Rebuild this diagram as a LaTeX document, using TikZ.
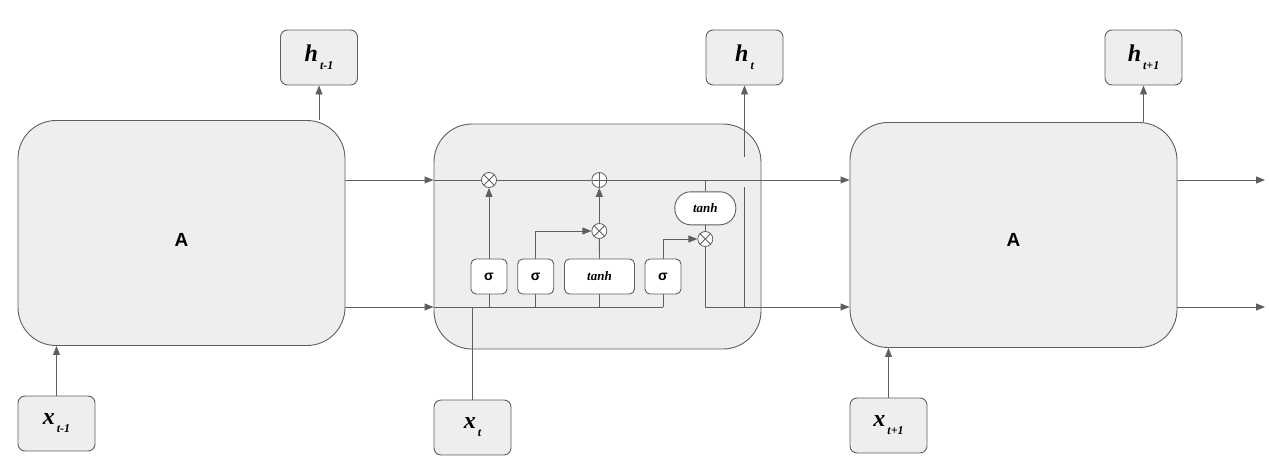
\documentclass[tikz,border=0pt]{standalone}
\usepackage{fontspec}
\setmainfont{Liberation Serif}
\setsansfont{Liberation Sans}
\usetikzlibrary{arrows.meta}
\definecolor{linegray}{HTML}{5F5F5F}
\definecolor{cellfill}{HTML}{EEEEEE}
% label with a lowered subscript, as h_t or x_t
\newcommand{\steplabel}[2]{{\fontsize{24}{24}\selectfont\bfseries\itshape #1}\raisebox{-8pt}{\fontsize{12}{12}\selectfont\bfseries\itshape\,#2}}

\begin{document}
\begin{tikzpicture}[x=1pt, y=-1pt,
    wire/.style={draw=linegray, line width=0.9pt},
    arr/.style={wire, -{Triangle[length=9pt,width=7pt]}},
    cell/.style={draw=linegray, line width=0.9pt, fill=cellfill, rounded corners=38pt, minimum width=327pt, minimum height=225pt, text depth=0pt, font=\sffamily\bfseries\fontsize{19}{19}\selectfont},
    io/.style={draw=linegray, line width=0.9pt, fill=cellfill, rounded corners=7pt, minimum width=77pt, minimum height=55pt, inner sep=0pt},
    gate/.style={draw=linegray, line width=0.9pt, fill=white, rounded corners=5pt, minimum width=36pt, minimum height=35pt, inner sep=0pt, font=\sffamily\bfseries\fontsize{14}{14}\selectfont},
    op/.style={circle, draw=linegray, line width=0.8pt, fill=white, minimum size=15pt, inner sep=0pt},
    mult/.style={op, path picture={\draw[linegray, line width=0.8pt] (path picture bounding box.south west) -- (path picture bounding box.north east) (path picture bounding box.north west) -- (path picture bounding box.south east);}},
    plus/.style={op, path picture={\draw[linegray, line width=0.8pt] (path picture bounding box.north) -- (path picture bounding box.south) (path picture bounding box.west) -- (path picture bounding box.east);}}
]
    \useasboundingbox (0,0) rectangle (1269,469);

    % the three cells
    \node[cell, text height=26.6pt] (A1) at (181.5,233) {A};
    \node[cell] (A2) at (597.5,236.5) {};
    \node[cell, text height=23.6pt] (A3) at (1013.5,235) {A};

    % outputs and inputs
    \node[io] (hprev) at (319,57.5) {\steplabel{h}{t-1}};
    \node[io] (hcur) at (744.5,57.5) {\steplabel{h}{t}};
    \node[io] (hnext) at (1143.5,57.5) {\steplabel{h}{t+1}};
    \node[io] (xprev) at (56.5,423.5) {\steplabel{x}{t-1}};
    \node[io] (xcur) at (472.5,427.5) {\steplabel{x}{t}};
    \node[io] (xnext) at (888.5,425.5) {\steplabel{x}{t+1}};

    % inside the middle cell
    \node[gate] (s1) at (489,276.5) {σ};
    \node[gate] (s2) at (535.7,276.5) {σ};
    \node[gate, minimum width=70pt, font=\bfseries\itshape\fontsize{13}{13}\selectfont] (tg) at (599.5,276.5) {tanh};
    \node[gate] (s3) at (663,276.5) {σ};
    \node[gate, minimum width=61pt, minimum height=33pt, rounded corners=16pt, font=\bfseries\itshape\fontsize{13}{13}\selectfont] (tc) at (705.3,208.3) {tanh};
    \node[mult] (m1) at (489,180) {};
    \node[plus] (p1) at (599.3,180) {};
    \node[mult] (m2) at (599.3,231) {};
    \node[mult] (m3) at (705.3,239) {};

    \coordinate (bus) at (0,307);
    \coordinate (hcut1) at (744.5,157);
    \coordinate (hcut2) at (744.5,187);
    \coordinate (outtop) at (1265,180);
    \coordinate (outbot) at (1265,307);

    % cell state line
    \draw[arr] (A1.east |- m1) -- (A2.west |- m1);
    \draw[wire] (A2.west |- m1) -- (m1.west);
    \draw[wire] (m1.east) -- (p1.west);
    \draw[arr] (p1.east) -- (A3.west |- p1);
    \draw[arr] (A3.east |- p1) -- (outtop);

    % hidden state line
    \draw[arr] (A1.east |- bus) -- (A2.west |- bus);
    \draw[wire] (A2.west |- bus) -- (s3 |- bus);
    \foreach \g in {s1,s2,tg,s3}
        \draw[wire] (\g.south) -- (\g |- bus);
    \draw[wire] (xcur.north) -- (xcur |- bus);
    \draw[arr] (m3.south) |- (A3.west |- bus);
    \draw[arr] (A3.east |- bus) -- (outbot);

    % gates
    \draw[arr] (s1.north) -- (m1.south);
    \draw[arr] (s2.north) |- (m2.west);
    \draw[wire] (tg.north) -- (m2.south);
    \draw[arr] (m2.north) -- (p1.south);
    \draw[arr] (s3.north) |- (m3.west);
    \draw[wire] (tc.south) -- (m3.north);
    \draw[wire] (tc.north) -- (tc |- p1);

    % h_t out of the cell
    \draw[wire] (hcut2) -- (hcut2 |- bus);
    \draw[arr] (hcut1) -- (hcur.south);

    % the other steps
    \draw[arr] (hprev |- A1.north) -- (hprev.south);
    \draw[arr] (hnext |- A3.north) -- (hnext.south);
    \draw[arr] (xprev.north) -- (xprev |- A1.south);
    \draw[arr] (xnext.north) -- (xnext |- A3.south);
\end{tikzpicture}
\end{document}
